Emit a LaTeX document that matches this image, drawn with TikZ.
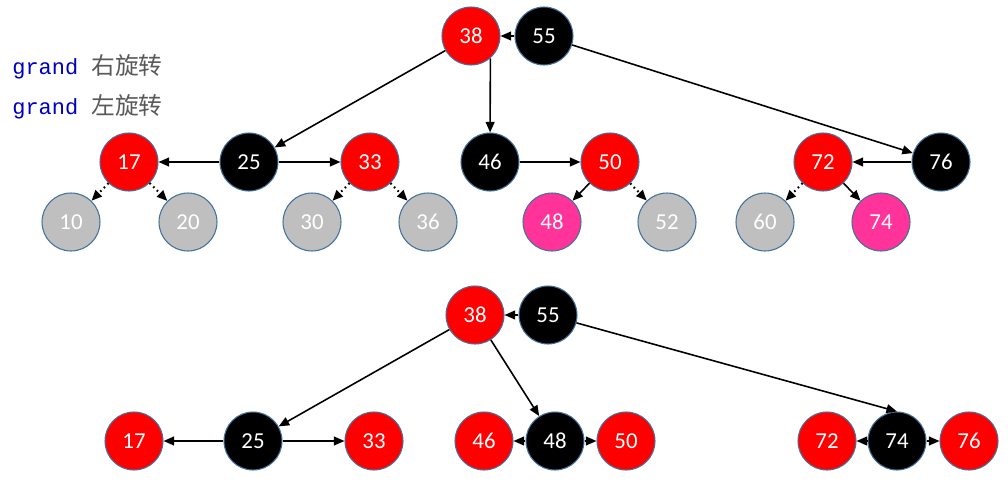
\documentclass[tikz,border=0pt]{standalone}
\usepackage{fontspec}
\setmainfont{Carlito}
\newfontfamily\cjkfont{Noto Sans CJK SC}
\newfontfamily\codefont{Liberation Mono}
\usepackage{tikz}
\usetikzlibrary{arrows.meta}

\definecolor{rbred}{HTML}{FF0000}
\definecolor{rbpink}{HTML}{FF3399}
\definecolor{rbgray}{HTML}{BFBFBF}
\definecolor{rbedge}{HTML}{41719C}
\definecolor{codeblue}{HTML}{0000C0}
\definecolor{txtgray}{HTML}{595959}

\tikzset{
  rb/.style={circle, draw=rbedge, line width=0.6pt, minimum size=1.16cm, inner sep=0pt,
             text=white, font=\fontsize{13}{15}\selectfont},
  rnode/.style={rb, fill=rbred},
  bnode/.style={rb, fill=black},
  gnode/.style={rb, fill=rbgray},
  pnode/.style={rb, fill=rbpink},
  link/.style={-{Triangle[length=6pt,width=5pt]}, line width=0.9pt},
  nil/.style={link, dotted, line width=1.2pt}
}

\begin{document}
\begin{tikzpicture}[x=0.02cm, y=-0.02cm]
\useasboundingbox (0,0) rectangle (1008,487);

\node[anchor=west, inner sep=0pt, font=\fontsize{12.5}{14}\selectfont] (t1) at (12,67) {\codefont\color{codeblue}grand \cjkfont\fontsize{13.5}{15}\selectfont\color{txtgray}右旋转};
\node[anchor=west, inner sep=0pt, font=\fontsize{12.5}{14}\selectfont] (t2) at (12,107) {\codefont\color{codeblue}grand \cjkfont\fontsize{13.5}{15}\selectfont\color{txtgray}左旋转};

% upper tree
\node[rnode] (a38) at (471,36) {38};
\node[bnode] (a55) at (544,36) {55};
\node[rnode] (a17) at (129,162) {17};
\node[bnode] (a25) at (249,162) {25};
\node[rnode] (a33) at (370,162) {33};
\node[bnode] (a46) at (490,162) {46};
\node[rnode] (a50) at (610,162) {50};
\node[rnode] (a72) at (823,162) {72};
\node[bnode] (a76) at (941,162) {76};
\foreach \v/\x in {10/71, 20/188, 30/312, 36/428, 52/667, 60/765}
  \node[gnode] (a\v) at (\x,222) {\v};
\node[pnode] (a48) at (552,222) {48};
\node[pnode] (a74) at (881,222) {74};

\draw[link] (a55) -- (a38);
\draw[link] (a38) -- (a25);
\draw[link] (a38.-49) -- (a46);
\draw[link] (a55) -- (a76);
\draw[link] (a25) -- (a17);
\draw[link] (a25) -- (a33);
\draw[link] (a46) -- (a50);
\draw[link] (a76) -- (a72);
\draw[link] (a50) -- (a48);
\draw[link] (a72) -- (a74);
\draw[nil] (a17) -- (a10);
\draw[nil] (a17) -- (a20);
\draw[nil] (a33) -- (a30);
\draw[nil] (a33) -- (a36);
\draw[nil] (a50) -- (a52);
\draw[nil] (a72) -- (a60);

% lower tree
\node[rnode] (b38) at (475,315) {38};
\node[bnode] (b55) at (548,315) {55};
\node[rnode] (b17) at (134,441) {17};
\node[bnode] (b25) at (253,441) {25};
\node[rnode] (b33) at (374,441) {33};
\node[rnode] (b46) at (484,441) {46};
\node[bnode] (b48) at (555,441) {48};
\node[rnode] (b50) at (626,441) {50};
\node[rnode] (b72) at (827,441) {72};
\node[bnode] (b74) at (897,441) {74};
\node[rnode] (b76) at (969,441) {76};

\draw[link] (b55) -- (b38);
\draw[link] (b38) -- (b25);
\draw[link] (b38) -- (b48);
\draw[link] (b55) -- (b74.north);
\draw[link] (b25) -- (b17);
\draw[link] (b25) -- (b33);
\draw[link] (b48) -- (b46);
\draw[link] (b48) -- (b50);
\draw[link] (b74) -- (b72);
\draw[link] (b74) -- (b76);

\end{tikzpicture}
\end{document}
